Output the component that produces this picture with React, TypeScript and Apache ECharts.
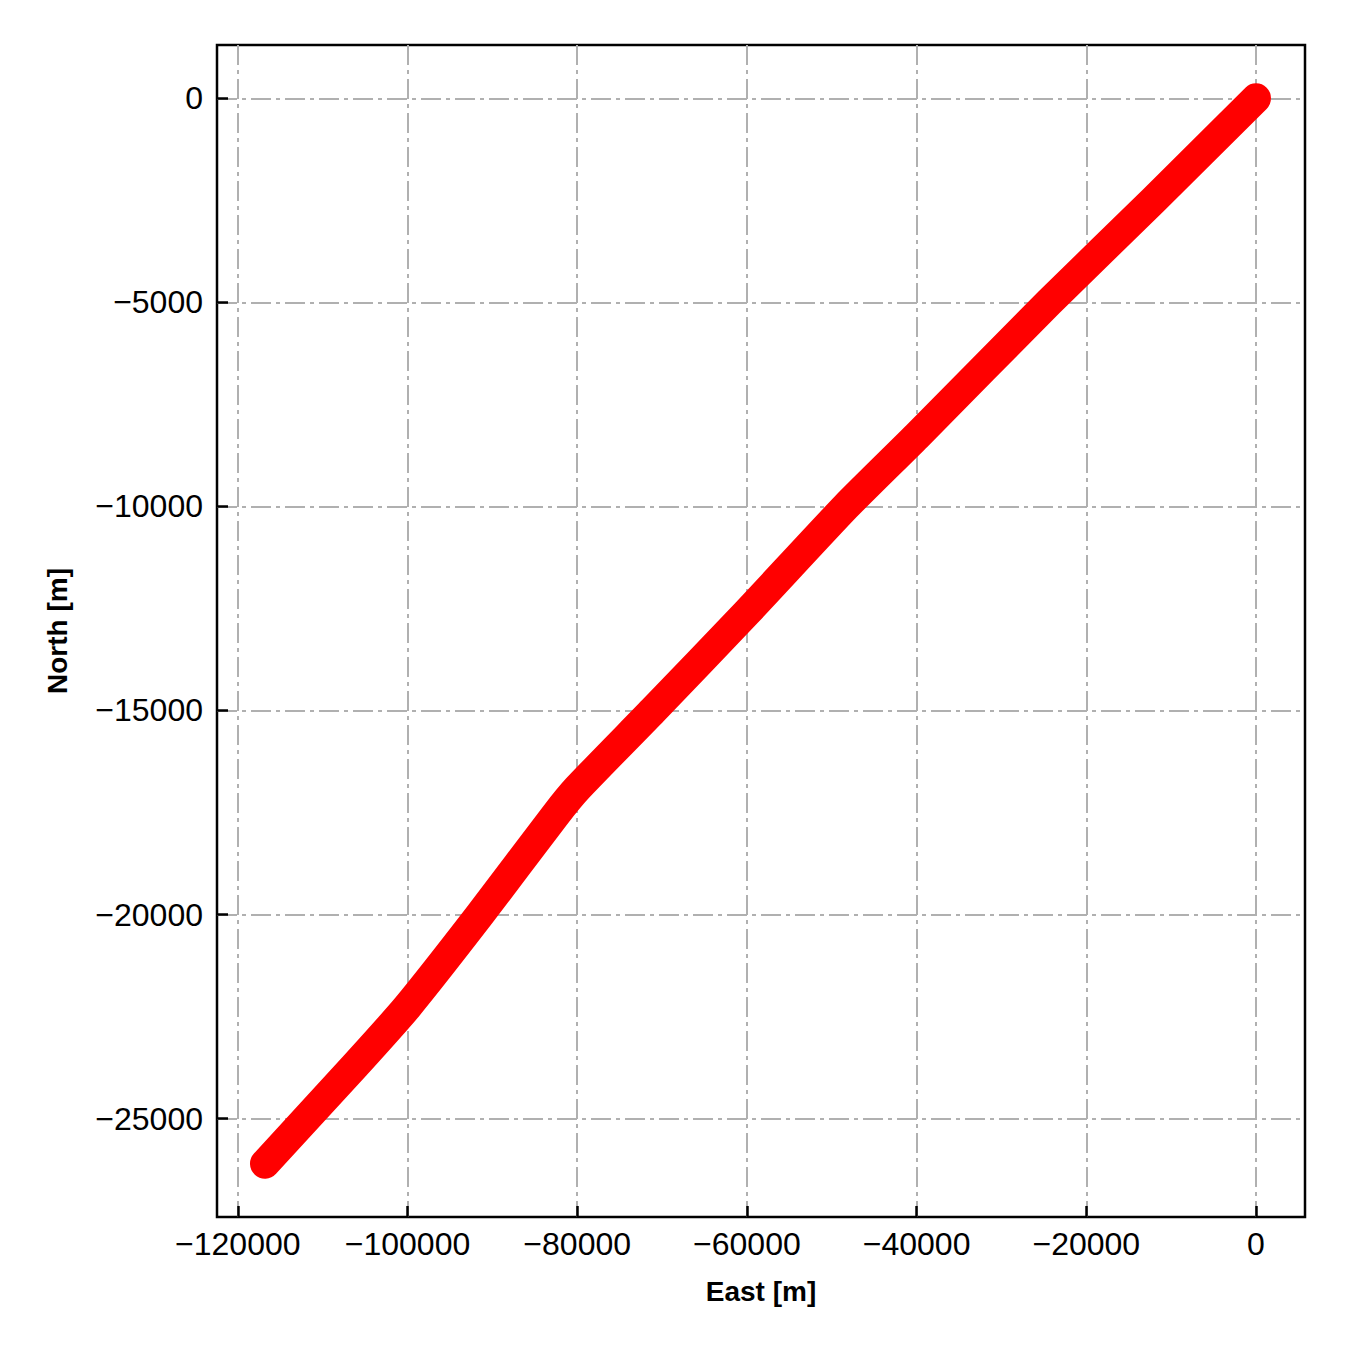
import React, { useEffect, useRef } from "react";
import * as echarts from "echarts";

// Trajectory (metres)
const eastValues: number[] = [
  0, -12100, -24396, -40000, -48320, -60000, -71067, -80000, -82616,
  -91455, -100000, -106187, -116794,
];
const northValues: number[] = [
  0, -2500, -5000, -8284, -10000, -12598, -15000, -16912, -17574,
  -20000, -22255, -23701, -26103,
];

const xTicks: number[] = [-120000, -100000, -80000, -60000, -40000, -20000, 0];
const yTicks: number[] = [-25000, -20000, -15000, -10000, -5000, 0];

const xRange = { min: -122450, max: 5775 };
const yRange = { min: -27410, max: 1305 };

const FONT = "'Liberation Sans', Arial, sans-serif";
const fmt = (v: number) => String(v).replace("-", "\u2212");

export default function App() {
  const ref = useRef<HTMLDivElement>(null);
  useEffect(() => {
    if (!ref.current) return;
    const chart = echarts.init(ref.current, undefined, { renderer: "svg" });
    const gridLine = { color: "#b0b0b0", width: 2, type: [20, 5, 4, 5] as number[] };
    chart.setOption({
      animation: false,
      backgroundColor: "#ffffff",
      grid: {
        left: 217,
        right: 45,
        top: 45,
        bottom: 133,
        show: true,
        borderColor: "#000",
        borderWidth: 2.5,
        backgroundColor: "transparent",
      },
      xAxis: {
        type: "value",
        min: xRange.min,
        max: xRange.max,
        name: "East [m]",
        nameLocation: "middle",
        nameGap: 60,
        nameTextStyle: { fontFamily: FONT, fontSize: 28, fontWeight: "bold", color: "#000" },
        axisLine: { show: false, onZero: false },
        axisTick: {
          show: true,
          inside: true,
          length: 11,
          customValues: xTicks,
          lineStyle: { color: "#000", width: 2.5 },
        },
        axisLabel: {
          customValues: xTicks,
          formatter: fmt,
          fontFamily: FONT,
          fontSize: 32,
          color: "#000",
          margin: 11,
        },
        splitLine: { show: true, lineStyle: gridLine },
      },
      yAxis: {
        type: "value",
        min: yRange.min,
        max: yRange.max,
        name: "North [m]",
        nameLocation: "middle",
        nameGap: 146,
        nameTextStyle: { fontFamily: FONT, fontSize: 28, fontWeight: "bold", color: "#000" },
        axisLine: { show: false, onZero: false },
        axisTick: {
          show: true,
          inside: true,
          length: 11,
          customValues: yTicks,
          lineStyle: { color: "#000", width: 2.5 },
        },
        axisLabel: {
          customValues: yTicks,
          formatter: fmt,
          fontFamily: FONT,
          fontSize: 32,
          color: "#000",
          margin: 14,
        },
        splitLine: { show: true, lineStyle: gridLine },
      },
      series: [
        {
          type: "line",
          data: eastValues.map((e, i) => [e, northValues[i]]),
          showSymbol: false,
          smooth: 0.2,
          lineStyle: { color: "#ff0000", width: 30, cap: "round", join: "round" },
          itemStyle: { color: "#ff0000" },
        },
      ],
    });
    return () => chart.dispose();
  }, []);
  return (
    <div
      ref={ref}
      style={{ position: "absolute", left: 0, top: 0, width: 1350, height: 1350 }}
    />
  );
}
